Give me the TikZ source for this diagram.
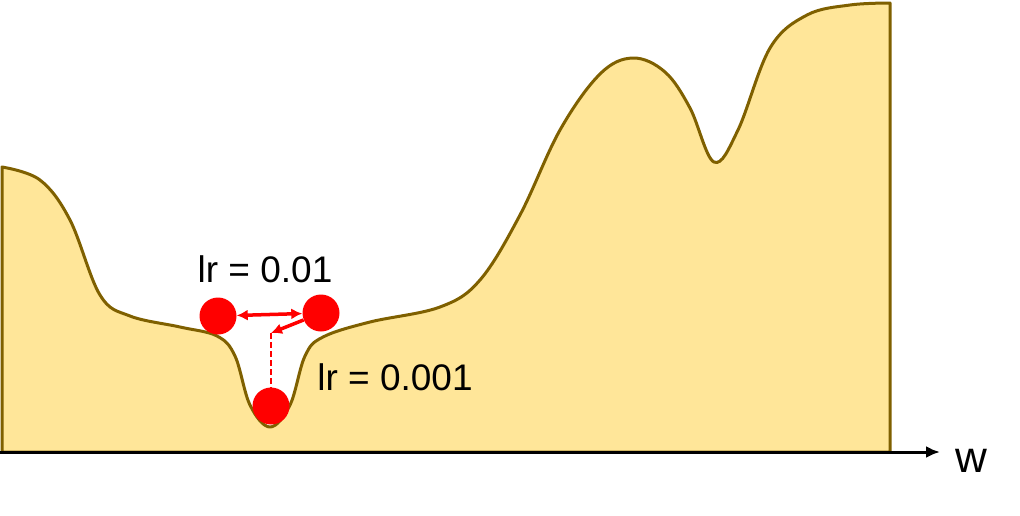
\documentclass[tikz,border=0pt]{standalone}
\usepackage{fontspec}
\setmainfont{Liberation Sans}
\usetikzlibrary{arrows.meta,positioning}
\definecolor{lsfill}{RGB}{255,230,153}
\definecolor{lsedge}{RGB}{127,96,0}
\definecolor{lsball}{RGB}{255,0,0}
\tikzset{
  land/.style={fill=lsfill, draw=lsedge, line width=3pt, line join=round},
  ball/.style={circle, fill=lsball, minimum size=37pt, inner sep=0pt},
  arr/.style={-{Latex[length=11pt,width=11pt]}, draw=lsball, line width=3.5pt},
  darr/.style={{Latex[length=11pt,width=11pt]}-{Latex[length=11pt,width=11pt]}, draw=lsball, line width=3.5pt},
  guide/.style={draw=lsball, line width=2pt, dash pattern=on 6pt off 3pt},
  axis/.style={-{Latex[length=14pt,width=12pt]}, line width=3pt},
  lbl/.style={font=\fontsize{37}{44}\selectfont, anchor=base, inner sep=0pt}
}
\begin{document}
\begin{tikzpicture}[x=1pt,y=-1pt]
  \useasboundingbox (0,0) rectangle (1020,515);
  % loss landscape
  \draw[land] (2,452) -- plot[smooth, tension=0.6] coordinates {
    (2,167) (40,180) (70,220) (100,295) (130,316) (180,327) (217,336)
    (235,356) (250,405) (270,427) (290,405) (305,356) (323,337) (370,322)
    (440,307) (480,280) (520,215) (560,130) (600,74) (633,58) (665,72)
    (690,108) (714,162) (738,130) (770,48) (807,15) (850,5) (890,3)}
    -- (890,452) -- cycle;
  % axis
  \coordinate (o) at (0,452);
  \coordinate (wend) at (940,452);
  \draw[axis] (o) -- (wend);
  \node[font=\fontsize{44}{50}\selectfont, anchor=base, inner sep=0pt] (w) at (971,472) {w};
  % balls
  \node[ball] (b1) at (218,316) {};
  \node[ball] (b2) at (321,313) {};
  \node[ball] (b3) at (271,406) {};
  \coordinate (turn) at (271,333);
  \draw[darr] (b1) -- (b2);
  \draw[arr] (b2) -- (turn);
  \draw[guide] (turn) -- (b3);
  % labels
  \node[lbl] (lrhi) at (265,282) {lr = 0.01};
  \node[lbl] (lrlo) at (395,390) {lr = 0.001};
\end{tikzpicture}
\end{document}
